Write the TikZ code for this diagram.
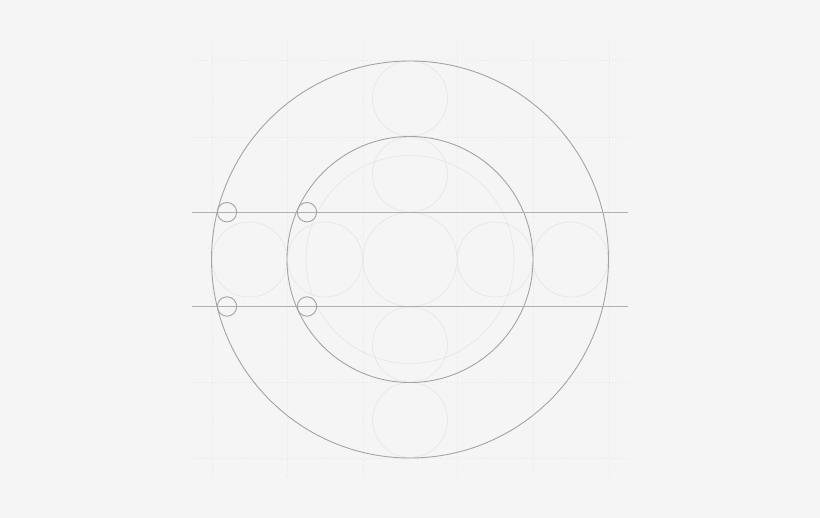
\documentclass[tikz,border=0pt]{standalone}
\definecolor{bg}{HTML}{F5F5F5}
\definecolor{darkc}{HTML}{A4A4A4}
\definecolor{linec}{HTML}{B0B0B0}
\definecolor{lightc}{HTML}{E7E7E7}
\definecolor{gridc}{HTML}{E9E9E9}
\tikzset{
  gridline/.style={gridc, line width=0.6pt, dash pattern=on 1pt off 1.5pt},
  faintcircle/.style={lightc, line width=0.7pt},
  maincircle/.style={darkc, line width=0.9pt},
  guideline/.style={linec, line width=1.3pt},
  ringmark/.style={darkc, line width=0.9pt}
}
\begin{document}
\begin{tikzpicture}[x=1pt,y=-1pt]
\fill[bg] (0,0) rectangle (820,518);
\useasboundingbox (0,0) rectangle (820,518);
% grid
\foreach \gx in {212,287,363,457,533,609} \draw[gridline] (\gx,41) -- (\gx,477);
\foreach \gy in {60,137,382,458} \draw[gridline] (192,\gy) -- (629,\gy);
% faint circles
\draw[faintcircle] (410,259.5) circle (104);
\draw[faintcircle] (410,259.5) circle (47);
\foreach \cx in {249.5,325,495,570.5} \draw[faintcircle] (\cx,259.5) circle (37.5);
\foreach \cy in {98.5,174.5,344.5,420} \draw[faintcircle] (410,\cy) circle (37.5);
% main circles
\draw[maincircle] (410,259.5) circle (198.5);
\draw[maincircle] (410,259.5) circle (123);
% guide lines
\draw[guideline] (192,212.2) -- (628,212.2);
\draw[guideline] (192,306.5) -- (628,306.5);
% small marks
\foreach \mx in {227,307} {
  \draw[ringmark] (\mx,212.2) circle (9.7);
  \draw[ringmark] (\mx,306.5) circle (9.7);
}
\end{tikzpicture}
\end{document}
